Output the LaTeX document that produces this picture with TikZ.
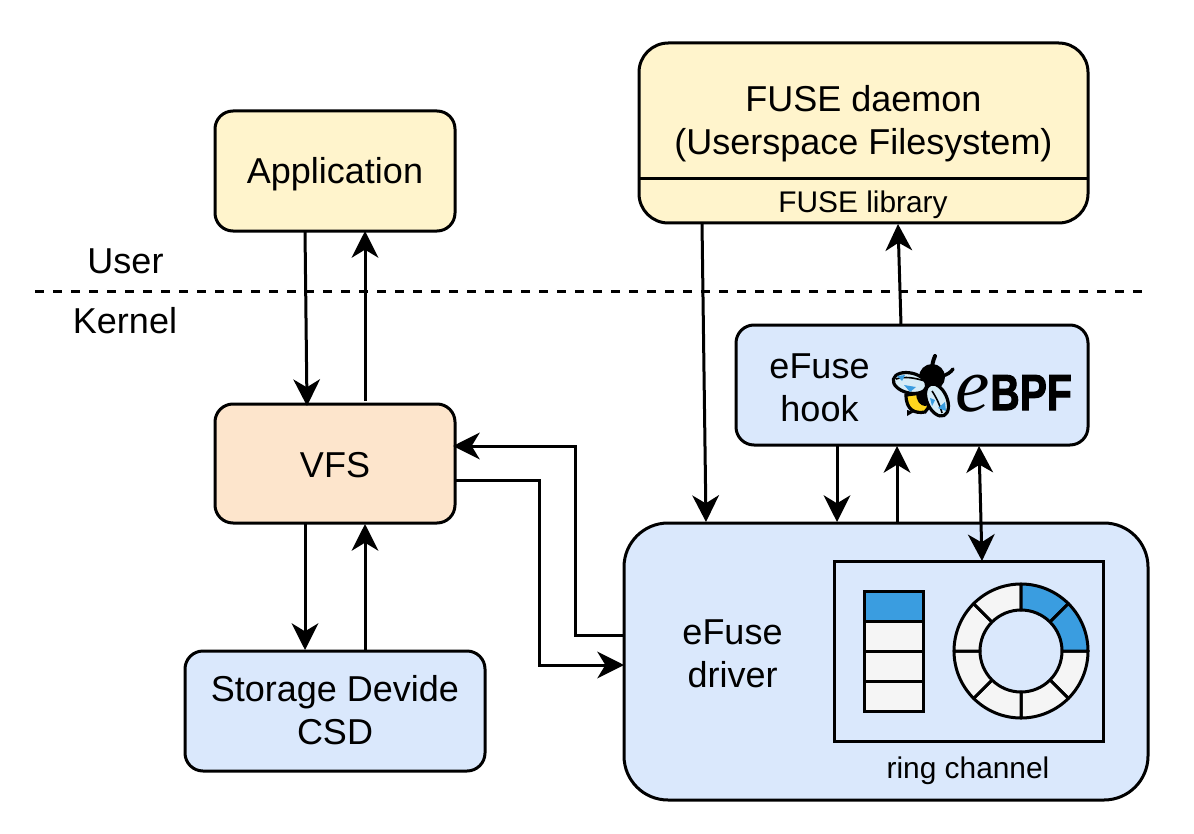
\documentclass[tikz,border=0pt]{standalone}
\usepackage{fontspec}
\setmainfont{Liberation Sans}
\newfontfamily\serifit{Liberation Serif}
\newfontfamily\heavyfont[FakeBold=2.2]{Liberation Sans Bold}
\usetikzlibrary{calc,arrows.meta}
\definecolor{yel}{HTML}{FFF4CC}
\definecolor{blu}{HTML}{DAE8FC}
\definecolor{ora}{HTML}{FDE5CC}
\definecolor{seg}{HTML}{F5F5F5}
\definecolor{hot}{HTML}{3A9DE0}
\definecolor{bee}{RGB}{253,214,30}
\definecolor{wing}{RGB}{214,236,247}
\tikzset{
  box/.style={draw=black,line width=2.25pt,outer sep=0pt,inner sep=0pt,align=center,font=\fontsize{27}{32.3}\selectfont},
  small/.style={inner sep=0pt,font=\fontsize{22.4}{27}\selectfont},
  big/.style={inner sep=0pt,align=center,font=\fontsize{27}{32.3}\selectfont},
  conn/.style={draw=black,line width=2.25pt,-{Stealth[length=20pt,width=20pt,inset=6pt]}},
  dconn/.style={draw=black,line width=2.25pt,{Stealth[length=20pt,width=20pt,inset=6pt]}-{Stealth[length=20pt,width=20pt,inset=6pt]}},
  plain/.style={draw=black,line width=2.25pt},
  cell/.style={draw=black,line width=2.25pt,fill=seg},
  beeline/.style={draw=black,line width=2.4pt},
}
\begin{document}
\begin{tikzpicture}[x=0.75pt,y=-0.75pt]
\useasboundingbox (0,0) rectangle (1194,834);
% boxes
\node[box,fill=yel,rounded corners=13.5pt,minimum width=180pt,minimum height=90pt] (app) at (335,171) {};
\node[big] (apptxt) at (335,174) {Application};
\node[box,fill=ora,rounded corners=13.5pt,minimum width=180pt,minimum height=89.25pt] (vfs) at (335,463.5) {};
\node[big] (vfstxt) at (335,465.5) {VFS};
\node[box,fill=blu,rounded corners=13.5pt,minimum width=225pt,minimum height=90pt] (csd) at (335,711) {};
\node[big] (csdtxt) at (335,710) {Storage Devide\\CSD};
\node[box,fill=yel,rounded corners=22pt,minimum width=336.75pt,minimum height=135pt] (fuse) at (863.5,133) {};
\node[big] (fusetxt) at (863.5,123.5) {FUSE daemon\\(Userspace Filesystem)};
\node[small] (fuselib) at (863,205) {FUSE library};
\draw[plain] ($(fuse.west)+(0,45.5)$) coordinate (dl) -- ($(fuse.east)+(0,45.5)$) coordinate (dr);
\node[box,fill=blu,rounded corners=13.5pt,minimum width=264pt,minimum height=90pt] (hook) at (912,385) {};
\node[big] (hooktxt) at (819.5,387.5) {eFuse\\hook};
\node[box,fill=blu,rounded corners=33pt,minimum width=393pt,minimum height=207.75pt] (drv) at (886,661.5) {};
\node[big] (drvtxt) at (732.5,654) {eFuse\\driver};
\node[box,minimum width=201.75pt,minimum height=135pt] (ring) at (968.5,651) {};
\node[small] (ringtxt) at (968,771) {ring channel};
% stack
\path[cell,fill=hot] (864,591) rectangle (923,621);
\path[cell] (864,621) rectangle (923,651);
\path[cell] (864,651) rectangle (923,681);
\path[cell] (864,681) rectangle (923,711);
% ring: in this y-down frame angles run clockwise on the page
\foreach \a in {0,45,...,315}{
  \pgfmathsetmacro{\b}{\a+45}
  \ifnum\a>269 \def\cc{hot}\else\def\cc{seg}\fi
  \path[cell,fill=\cc,line join=round] ($(1021,651)+(\a:67)$) arc[start angle=\a,end angle=\b,radius=67] -- ($(1021,651)+(\b:41)$) arc[start angle=\b,end angle=\a,radius=41] -- cycle;
}
% logo
\draw[black,line width=3pt,line cap=round] (932,372) .. controls (932,364) and (933,361) .. (935,356);
\draw[black,line width=2.6pt,line cap=round] (942,376) .. controls (947,375) and (951,372) .. (953,369);
\fill[black] (932,377) ellipse [x radius=13,y radius=13];
\path[beeline,fill=bee] (906,395) .. controls (906,410) and (915,414) .. (925,412) .. controls (930,408) and (930,400) .. (929,392) -- cycle;
\fill[black] (925,393) ellipse [x radius=9,y radius=13];
\fill[black] (907,410) -- (907,416) -- (914,412) -- cycle;
\path[beeline,fill=wing,shift={(910,383)},rotate=-13] (0,0) ellipse [x radius=17,y radius=10];
\path[beeline,fill=wing,shift={(937,400)},rotate=-66] (0,0) ellipse [x radius=17,y radius=10];
\draw[black,line width=1.2pt] (896,379) .. controls (905,376) and (915,378) .. (925,381);
\draw[black,line width=1.2pt] (932,391) .. controls (936,397) and (940,405) .. (942,413);
\fill[hot] (897,376) -- (905,375) -- (902,381) -- cycle;
\fill[hot] (904,385) -- (916,387) -- (910,392) -- cycle;
\fill[hot] (938,408) -- (945,402) -- (946,411) -- cycle;
\fill[hot] (930,398) -- (935,400) -- (932,406) -- cycle;
\node[anchor=base west,inner sep=0pt,font=\serifit\fontsize{58}{58}\selectfont\itshape] (ebe) at (955,411) {e};
\node[anchor=base west,inner sep=0pt,font=\heavyfont\fontsize{34}{34}\selectfont] (ebpf) at (990,410) {\scalebox{.9}[1.12]{BPF}};
% divider
\draw[dash pattern=on 6.75pt off 6.75pt,line width=2.25pt,draw=black] (35,291) coordinate (dashL) -- (1143,291) coordinate (dashR);
\node[big] (user) at (125.5,261) {User};
\node[big] (kernel) at (125,321) {Kernel};
% connectors
\draw[conn] ($(app.south west)+(90,0)$) -- ($(vfs.north west)+(92,2)$);
\draw[conn] ($(vfs.north west)+(150,-3)$) -- ($(app.south west)+(150,0)$);
\draw[conn] ($(vfs.south west)+(90,0)$) -- ($(csd.north west)+(120,-1)$);
\draw[conn] ($(csd.north west)+(180,0)$) -- ($(vfs.south west)+(150,1)$);
\draw[conn] ($(drv.north west)+(0,112)$) -| (575,446) -- ($(vfs.east)+(-2,-17.5)$);
\draw[conn] ($(vfs.east)+(1,16.5)$) -| (539,665) -- ($(drv.north west)+(0,142)$);
\draw[conn] ($(fuse.south west)+(63,0)$) -- ($(drv.north west)+(82,-1)$);
\draw[conn] ($(hook.north west)+(165,0)$) -- ($(fuse.south west)+(259,1)$);
\draw[conn] ($(hook.south west)+(101,0)$) -- ($(drv.north west)+(213,-1)$);
\draw[conn] ($(drv.north west)+(273,0)$) -- ($(hook.south west)+(161,1)$);
\draw[dconn] ($(hook.south west)+(243,1)$) -- ($(ring.north west)+(148,0)$);
\end{tikzpicture}
\end{document}
